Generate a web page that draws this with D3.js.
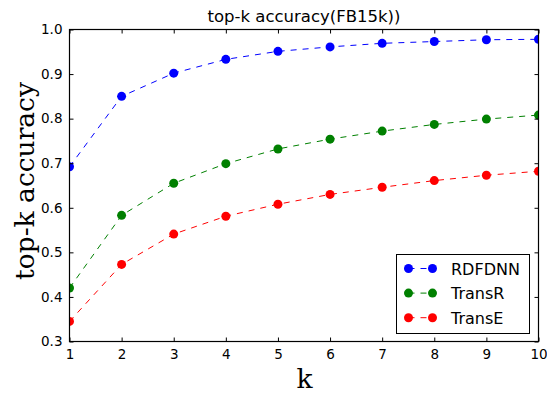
<!DOCTYPE html>
<html>
<head>
<meta charset="utf-8">
<script src="https://cdn.jsdelivr.net/npm/d3@7"></script>
<style>
  body { margin: 0; background: #fff; }
  svg { display: block; }
</style>
</head>
<body>
<div id="chart"><svg width="547" height="394"></svg></div>
<script>
// data
var ks = [1, 2, 3, 4, 5, 6, 7, 8, 9, 10];
var rdfdnn = [0.692, 0.850, 0.902, 0.933, 0.951, 0.961, 0.969, 0.973, 0.977, 0.978];
var transR = [0.420, 0.583, 0.655, 0.699, 0.732, 0.754, 0.772, 0.787, 0.799, 0.808];
var transE = [0.345, 0.473, 0.541, 0.581, 0.608, 0.630, 0.646, 0.661, 0.673, 0.682];
var yTicks = [0.3, 0.4, 0.5, 0.6, 0.7, 0.8, 0.9, 1.0];
var seriesNames = ["RDFDNN", "TransR", "TransE"];
var seriesColors = ["#0000ff", "#008000", "#ff0000"];

function make_plot(ref){
  var series = [rdfdnn, transR, transE].map(function(vals, i){
    return {name: seriesNames[i], color: seriesColors[i],
            values: vals.map(function(v, j){ return {x: ks[j], y: v}; })};
  });

  var x0 = 69.5, x1 = 538.5, y0 = 29.5, y1 = 341.5;
  var xScale = d3.scaleLinear().domain([1, 10]).range([x0, x1]);
  var yScale = d3.scaleLinear().domain([0.3, 1.0]).range([y1, y0]);

  var svg = d3.select(ref).select("svg");
  var font = "'DejaVu Sans', sans-serif";
  var serif = "'DejaVu Serif', serif";

  // clip so points on the frame are cut like matplotlib
  svg.append("defs").append("clipPath").attr("id", "clip")
    .append("rect").attr("x", x0).attr("y", y0)
    .attr("width", x1 - x0).attr("height", y1 - y0);

  var linemaker = d3.line()
    .x(function(d){ return xScale(d.x); })
    .y(function(d){ return yScale(d.y); });

  var plot = svg.append("g").attr("clip-path", "url(#clip)");
  series.forEach(function(s){
    plot.append("path")
      .attr("d", linemaker(s.values))
      .attr("fill", "none")
      .attr("stroke", s.color)
      .attr("stroke-width", 1)
      .attr("stroke-dasharray", "6,6");
    plot.selectAll(null).data(s.values).enter().append("circle")
      .attr("cx", function(d){ return xScale(d.x); })
      .attr("cy", function(d){ return yScale(d.y); })
      .attr("r", 4.5)
      .attr("fill", s.color);
  });

  // axes, ticks inward on all four sides
  var tickLen = 4;
  function styleAxis(g){
    g.select(".domain").remove();
    g.selectAll("line").attr("stroke", "#000").attr("stroke-width", 1);
    g.selectAll("text").attr("font-family", font).attr("font-size", "13.5px").attr("fill", "#000");
  }
  svg.append("g").attr("transform", "translate(0," + y1 + ")")
    .call(d3.axisBottom(xScale).tickValues(ks).tickFormat(d3.format("d"))
          .tickSizeInner(-tickLen).tickSizeOuter(0).tickPadding(8))
    .call(styleAxis);
  svg.append("g").attr("transform", "translate(0," + y0 + ")")
    .call(d3.axisTop(xScale).tickValues(ks).tickFormat("")
          .tickSizeInner(-tickLen).tickSizeOuter(0))
    .call(styleAxis);
  svg.append("g").attr("transform", "translate(" + x0 + ",0)")
    .call(d3.axisLeft(yScale).tickValues(yTicks).tickFormat(d3.format(".1f"))
          .tickSizeInner(-tickLen).tickSizeOuter(0).tickPadding(7))
    .call(styleAxis);
  svg.append("g").attr("transform", "translate(" + x1 + ",0)")
    .call(d3.axisRight(yScale).tickValues(yTicks).tickFormat("")
          .tickSizeInner(-tickLen).tickSizeOuter(0))
    .call(styleAxis);

  svg.append("rect")
    .attr("x", x0).attr("y", y0)
    .attr("width", x1 - x0).attr("height", y1 - y0)
    .attr("fill", "none").attr("stroke", "#000").attr("stroke-width", 1.2);

  // title and labels
  svg.append("text")
    .attr("x", (x0 + x1) / 2).attr("y", 22)
    .attr("text-anchor", "middle")
    .attr("font-family", font).attr("font-size", "16.5px")
    .text("top-k accuracy(FB15k))");
  svg.append("text")
    .attr("x", 304.5).attr("y", 388)
    .attr("text-anchor", "middle")
    .attr("font-family", serif).attr("font-size", "26.5px")
    .text("k");
  svg.append("text")
    .attr("transform", "translate(33.5,181) rotate(-90)")
    .attr("text-anchor", "middle")
    .attr("font-family", serif).attr("font-size", "26.5px")
    .text("top-k accuracy");

  // legend
  var legend = svg.append("g");
  legend.append("rect")
    .attr("x", 396.5).attr("y", 254.5).attr("width", 133).attr("height", 79)
    .attr("fill", "#fff").attr("stroke", "#000").attr("stroke-width", 1);
  series.forEach(function(s, i){
    var y = 268.5 + i * 24.6;
    legend.append("line")
      .attr("x1", 408.5).attr("x2", 432.5).attr("y1", y).attr("y2", y)
      .attr("stroke", s.color).attr("stroke-dasharray", "6,6");
    legend.selectAll(null).data([408.5, 432.5]).enter().append("circle")
      .attr("cx", function(d){ return d; }).attr("cy", y).attr("r", 4.5)
      .attr("fill", s.color);
    legend.append("text")
      .attr("x", 451).attr("y", y + 6)
      .attr("font-family", font).attr("font-size", "16px")
      .text(s.name);
  });
}
make_plot("#chart");
</script>
</body>
</html>
